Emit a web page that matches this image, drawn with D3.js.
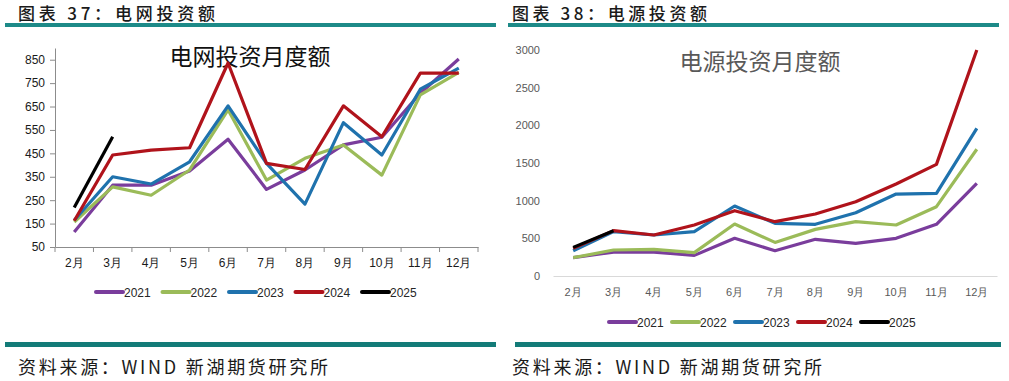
<!DOCTYPE html>
<html>
<head>
<meta charset="utf-8">
<script src="https://cdn.jsdelivr.net/npm/d3@7"></script>
<style>
  body { margin: 0; background: #fff; }
  svg { display: block; font-family: "Noto Sans CJK SC", "Noto Sans", sans-serif; }
</style>
</head>
<body>
<div id="chart"></div>
<script>
const months = ["2月", "3月", "4月", "5月", "6月", "7月", "8月", "9月", "10月", "11月", "12月"];
const years = ["2021", "2022", "2023", "2024", "2025"];
const colors = ["#7a3d9c", "#9bbb59", "#1f72ad", "#b0131b", "#000000"];

// 电网投资月度额
const grid2021 = [114, 314, 314, 375, 510, 296, 379, 486, 519, 707, 853];
const grid2022 = [157, 307, 271, 379, 636, 336, 429, 486, 357, 700, 796];
const grid2023 = [164, 350, 319, 414, 653, 407, 233, 581, 443, 724, 814];
const grid2024 = [162, 443, 464, 474, 836, 407, 381, 653, 521, 793, 793];
const grid2025 = [219, 521];
const gridTicks = [50, 150, 250, 350, 450, 550, 650, 750, 850];

// 电源投资月度额
const power2021 = [243, 318, 318, 274, 500, 336, 487, 434, 500, 686, 1230];
const power2022 = [243, 345, 354, 310, 690, 446, 619, 721, 677, 920, 1682];
const power2023 = [336, 590, 544, 588, 929, 699, 686, 840, 1088, 1097, 1960];
const power2024 = [367, 602, 544, 677, 867, 721, 823, 986, 1221, 1482, 3000];
const power2025 = [380, 602];
const powerTicks = [0, 500, 1000, 1500, 2000, 2500, 3000];

const svg = d3.select("#chart").append("svg")
  .attr("width", 1009)
  .attr("height", 381);

function drawPanel(p) {
  const g = svg.append("g");

  // header
  g.append("text")
    .attr("x", p.titleX).attr("y", 20)
    .attr("font-size", 17).attr("font-weight", 500).attr("fill", "#1a1a1a")
    .attr("textLength", p.titleW).attr("lengthAdjust", "spacing")
    .text(p.title);
  g.append("rect")
    .attr("x", p.barX0).attr("y", 23)
    .attr("width", p.barX1 - p.barX0).attr("height", 4)
    .attr("fill", "#1d8a88");

  const x = d3.scaleBand().domain(months).range([p.x0, p.x1]);
  const y = d3.scaleLinear().domain(p.yDomain).range([p.y0, p.y1]);

  // y axis
  const yAxis = g.append("g")
    .attr("transform", `translate(${p.x0},0)`)
    .call(d3.axisLeft(y).tickValues(p.ticks).tickFormat(d3.format("d"))
      .tickSize(p.showYLine ? 5 : 0).tickSizeOuter(0).tickPadding(p.showYLine ? 5 : 13));
  yAxis.select(".domain").attr("stroke", "#8c8c8c").attr("display", p.showYLine ? null : "none");
  yAxis.selectAll(".tick line").attr("stroke", "#8c8c8c");
  yAxis.selectAll("text").attr("font-size", p.tickFont).attr("fill", p.tickColor)
    .attr("font-family", "Liberation Sans, Arial, sans-serif");

  // x axis
  const xAxis = g.append("g")
    .attr("transform", `translate(0,${p.y0})`)
    .call(d3.axisBottom(x).tickSize(0).tickPadding(p.xPad));
  xAxis.select(".domain").attr("stroke", p.showYLine ? "#8c8c8c" : "#d9d9d9");
  xAxis.selectAll("text").attr("font-size", p.tickFont).attr("fill", p.tickColor);
  if (p.showYLine) {
    const bounds = months.map(m => x(m) + x.bandwidth()).concat([x(months[0])]);
    g.selectAll(".xtick").data(bounds).join("line")
      .attr("x1", d => d).attr("x2", d => d)
      .attr("y1", p.y0).attr("y2", p.y0 + 5)
      .attr("stroke", "#8c8c8c");
  }

  // chart title
  g.append("text")
    .attr("x", p.chartTitleX).attr("y", p.chartTitleY)
    .attr("text-anchor", "middle")
    .attr("font-size", 23).attr("fill", p.chartTitleColor)
    .text(p.chartTitle);

  const line = d3.line()
    .x((d, i) => x(months[i]) + x.bandwidth() / 2)
    .y(d => y(d));

  g.selectAll(".series").data(p.series).join("path")
    .attr("d", d => line(d))
    .attr("fill", "none")
    .attr("stroke", (d, i) => colors[i])
    .attr("stroke-width", 3.2)
    .attr("stroke-linejoin", "round");

  // legend
  const lg = g.selectAll(".legend").data(years).join("g")
    .attr("transform", (d, i) => `translate(${p.legX + i * p.legStep},${p.legY})`);
  lg.append("line")
    .attr("x1", 0).attr("x2", 27)
    .attr("stroke", (d, i) => colors[i])
    .attr("stroke-width", 4)
    .attr("stroke-linecap", "round");
  lg.append("text")
    .attr("x", 28).attr("y", 4.5)
    .attr("font-size", 12).attr("fill", "#262626")
    .attr("font-family", "Liberation Sans, Arial, sans-serif")
    .text(d => d);

  // footer
  g.append("rect")
    .attr("x", p.footX0).attr("y", 342)
    .attr("width", p.footX1 - p.footX0).attr("height", 5)
    .attr("fill", "#137b78");
  g.append("text")
    .attr("x", p.titleX).attr("y", 374)
    .attr("font-size", 18).attr("fill", "#1a1a1a")
    .attr("textLength", 310).attr("lengthAdjust", "spacing")
    .text("资料来源：WIND 新湖期货研究所");
}

drawPanel({
  title: "图表 37：电网投资额", titleX: 18, titleW: 197, barX0: 5, barX1: 496,
  x0: 55, x1: 478, y0: 247, y1: 48, yDomain: [50, 900], ticks: gridTicks,
  showYLine: true, tickFont: 12, tickColor: "#1a1a1a", xPad: 11,
  chartTitle: "电网投资月度额", chartTitleX: 250, chartTitleY: 65, chartTitleColor: "#111",
  series: [grid2021, grid2022, grid2023, grid2024, grid2025],
  legX: 96, legY: 292, legStep: 66.5,
  footX0: 5, footX1: 496
});

drawPanel({
  title: "图表 38：电源投资额", titleX: 512, titleW: 195, barX0: 508, barX1: 999,
  x0: 553, x1: 997, y0: 276, y1: 50, yDomain: [0, 3000], ticks: powerTicks,
  showYLine: false, tickFont: 11, tickColor: "#595959", xPad: 12,
  chartTitle: "电源投资月度额", chartTitleX: 760, chartTitleY: 70, chartTitleColor: "#595959",
  series: [power2021, power2022, power2023, power2024, power2025],
  legX: 609, legY: 322, legStep: 63,
  footX0: 515, footX1: 1001
});
</script>
</body>
</html>
